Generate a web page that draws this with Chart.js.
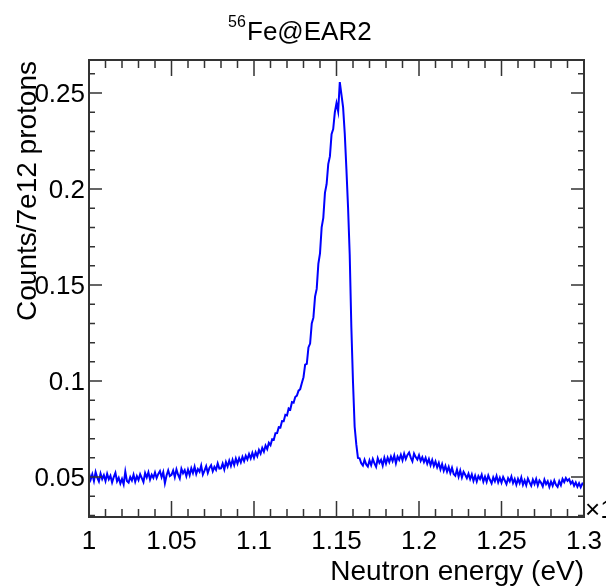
<!DOCTYPE html>
<html>
<head>
<meta charset="utf-8">
<script src="https://cdn.jsdelivr.net/npm/chart.js@4.4.1/dist/chart.umd.min.js"></script>
<style>
 html, body { margin: 0; padding: 0; background: #fff; }
 #wrap { width: 606px; height: 588px; }
</style>
</head>
<body>
<div id="wrap"><canvas id="feChart" width="606" height="588"></canvas></div>
<script>
// neutron energy (x10^3 eV), bin centres
var energy = [
 1.000, 1.001, 1.002, 1.003, 1.004, 1.005, 1.006, 1.007, 1.008, 1.009,
 1.010, 1.011, 1.012, 1.013, 1.014, 1.015, 1.016, 1.017, 1.018, 1.019,
 1.020, 1.021, 1.022, 1.023, 1.024, 1.025, 1.026, 1.027, 1.028, 1.029,
 1.030, 1.031, 1.032, 1.033, 1.034, 1.035, 1.036, 1.037, 1.038, 1.039,
 1.040, 1.041, 1.042, 1.043, 1.044, 1.045, 1.046, 1.047, 1.048, 1.049,
 1.050, 1.051, 1.052, 1.053, 1.054, 1.055, 1.056, 1.057, 1.058, 1.059,
 1.060, 1.061, 1.062, 1.063, 1.064, 1.065, 1.066, 1.067, 1.068, 1.069,
 1.070, 1.071, 1.072, 1.073, 1.074, 1.075, 1.076, 1.077, 1.078, 1.079,
 1.080, 1.081, 1.082, 1.083, 1.084, 1.085, 1.086, 1.087, 1.088, 1.089,
 1.090, 1.091, 1.092, 1.093, 1.094, 1.095, 1.096, 1.097, 1.098, 1.099,
 1.100, 1.101, 1.102, 1.103, 1.104, 1.105, 1.106, 1.107, 1.108, 1.109,
 1.110, 1.111, 1.112, 1.113, 1.114, 1.115, 1.116, 1.117, 1.118, 1.119,
 1.120, 1.121, 1.122, 1.123, 1.124, 1.125, 1.126, 1.127, 1.128, 1.129,
 1.130, 1.131, 1.132, 1.133, 1.134, 1.135, 1.136, 1.137, 1.138, 1.139,
 1.140, 1.141, 1.142, 1.143, 1.144, 1.145, 1.146, 1.147, 1.148, 1.149,
 1.150, 1.151, 1.152, 1.153, 1.154, 1.155, 1.156, 1.157, 1.158, 1.159,
 1.160, 1.161, 1.162, 1.163, 1.164, 1.165, 1.166, 1.167, 1.168, 1.169,
 1.170, 1.171, 1.172, 1.173, 1.174, 1.175, 1.176, 1.177, 1.178, 1.179,
 1.180, 1.181, 1.182, 1.183, 1.184, 1.185, 1.186, 1.187, 1.188, 1.189,
 1.190, 1.191, 1.192, 1.193, 1.194, 1.195, 1.196, 1.197, 1.198, 1.199,
 1.200, 1.201, 1.202, 1.203, 1.204, 1.205, 1.206, 1.207, 1.208, 1.209,
 1.210, 1.211, 1.212, 1.213, 1.214, 1.215, 1.216, 1.217, 1.218, 1.219,
 1.220, 1.221, 1.222, 1.223, 1.224, 1.225, 1.226, 1.227, 1.228, 1.229,
 1.230, 1.231, 1.232, 1.233, 1.234, 1.235, 1.236, 1.237, 1.238, 1.239,
 1.240, 1.241, 1.242, 1.243, 1.244, 1.245, 1.246, 1.247, 1.248, 1.249,
 1.250, 1.251, 1.252, 1.253, 1.254, 1.255, 1.256, 1.257, 1.258, 1.259,
 1.260, 1.261, 1.262, 1.263, 1.264, 1.265, 1.266, 1.267, 1.268, 1.269,
 1.270, 1.271, 1.272, 1.273, 1.274, 1.275, 1.276, 1.277, 1.278, 1.279,
 1.280, 1.281, 1.282, 1.283, 1.284, 1.285, 1.286, 1.287, 1.288, 1.289,
 1.290, 1.291, 1.292, 1.293, 1.294, 1.295, 1.296, 1.297, 1.298, 1.299,
 1.300
];

// counts per 7e12 protons
var counts = [
 0.0521, 0.0487, 0.0515, 0.0480, 0.0526, 0.0497, 0.0477, 0.0518, 0.0490, 0.0510,
 0.0480, 0.0517, 0.0489, 0.0507, 0.0472, 0.0500, 0.0522, 0.0478, 0.0496, 0.0466,
 0.0490, 0.0462, 0.0528, 0.0479, 0.0471, 0.0500, 0.0482, 0.0512, 0.0476, 0.0505,
 0.0485, 0.0515, 0.0495, 0.0474, 0.0521, 0.0498, 0.0525, 0.0487, 0.0512, 0.0496,
 0.0524, 0.0495, 0.0516, 0.0531, 0.0499, 0.0526, 0.0468, 0.0508, 0.0535, 0.0505,
 0.0511, 0.0534, 0.0500, 0.0540, 0.0512, 0.0492, 0.0543, 0.0520, 0.0536, 0.0505,
 0.0538, 0.0510, 0.0546, 0.0521, 0.0554, 0.0516, 0.0542, 0.0528, 0.0560, 0.0513,
 0.0534, 0.0557, 0.0522, 0.0548, 0.0562, 0.0530, 0.0553, 0.0538, 0.0571, 0.0544,
 0.0545, 0.0570, 0.0540, 0.0578, 0.0555, 0.0585, 0.0558, 0.0590, 0.0562, 0.0596,
 0.0570, 0.0598, 0.0576, 0.0605, 0.0583, 0.0611, 0.0592, 0.0620, 0.0597, 0.0626,
 0.0600, 0.0629, 0.0609, 0.0641, 0.0622, 0.0652, 0.0632, 0.0664, 0.0646, 0.0678,
 0.0666, 0.0697, 0.0694, 0.0728, 0.0729, 0.0760, 0.0758, 0.0792, 0.0791, 0.0824,
 0.0821, 0.0858, 0.0852, 0.0890, 0.0887, 0.0917, 0.0924, 0.0950, 0.0958, 0.0990,
 0.1020, 0.1085, 0.1090, 0.1175, 0.1195, 0.1300, 0.1330, 0.1440, 0.1480, 0.1610,
 0.1665, 0.1800, 0.1850, 0.1980, 0.2025, 0.2130, 0.2170, 0.2285, 0.2312, 0.2400,
 0.2448, 0.2405, 0.2557, 0.2492, 0.2425, 0.2290, 0.2105, 0.1905, 0.1660, 0.1280,
 0.0995, 0.0762, 0.0670, 0.0600, 0.0598, 0.0572, 0.0560, 0.0590, 0.0566, 0.0555,
 0.0587, 0.0562, 0.0594, 0.0571, 0.0553, 0.0598, 0.0574, 0.0590, 0.0560, 0.0600,
 0.0570, 0.0601, 0.0578, 0.0606, 0.0583, 0.0612, 0.0572, 0.0607, 0.0590, 0.0616,
 0.0588, 0.0622, 0.0594, 0.0615, 0.0628, 0.0601, 0.0582, 0.0622, 0.0604, 0.0591,
 0.0614, 0.0584, 0.0603, 0.0578, 0.0600, 0.0570, 0.0594, 0.0562, 0.0589, 0.0558,
 0.0581, 0.0551, 0.0574, 0.0540, 0.0567, 0.0533, 0.0558, 0.0528, 0.0553, 0.0521,
 0.0548, 0.0516, 0.0507, 0.0539, 0.0502, 0.0534, 0.0498, 0.0527, 0.0512, 0.0494,
 0.0518, 0.0490, 0.0514, 0.0480, 0.0507, 0.0477, 0.0505, 0.0489, 0.0512, 0.0476,
 0.0502, 0.0475, 0.0508, 0.0486, 0.0467, 0.0499, 0.0478, 0.0506, 0.0472, 0.0496,
 0.0471, 0.0500, 0.0482, 0.0463, 0.0494, 0.0477, 0.0503, 0.0469, 0.0490, 0.0460,
 0.0490, 0.0468, 0.0498, 0.0460, 0.0483, 0.0458, 0.0492, 0.0472, 0.0455, 0.0486,
 0.0464, 0.0490, 0.0456, 0.0482, 0.0470, 0.0451, 0.0486, 0.0463, 0.0478, 0.0449,
 0.0476, 0.0455, 0.0482, 0.0460, 0.0449, 0.0478, 0.0458, 0.0490, 0.0474, 0.0495,
 0.0480, 0.0489, 0.0466, 0.0478, 0.0455, 0.0472, 0.0450, 0.0468, 0.0447, 0.0466,
 0.0458
];

var xTicks = [1, 1.05, 1.1, 1.15, 1.2, 1.25, 1.3];
var yTicks = [0.05, 0.1, 0.15, 0.2, 0.25];
var xMin = 1, xMax = 1.3;
var yMin = 0.0292, yMax = 0.2672;

var FONT = "'Liberation Sans', Arial, Helvetica, sans-serif";

// ROOT-like frame, inward ticks, labels and titles
var rootFrame = {
 id: "rootFrame",
 afterDraw: function (chart) {
  var ctx = chart.ctx;
  var a = chart.chartArea;
  var xs = chart.scales.x;
  var ys = chart.scales.y;
  ctx.save();
  ctx.strokeStyle = "#333";
  ctx.lineWidth = 1.5;

  // x ticks, major + 4 minor per division
  ctx.beginPath();
  for (var i = 0; i < xTicks.length; i++) {
   var px = xs.getPixelForValue(xTicks[i]);
   ctx.moveTo(px, a.bottom); ctx.lineTo(px, a.bottom - 16);
   ctx.moveTo(px, a.top); ctx.lineTo(px, a.top + 16);
   if (i < xTicks.length - 1) {
    var step = (xTicks[i + 1] - xTicks[i]) / 5;
    for (var k = 1; k < 5; k++) {
     var mx = xs.getPixelForValue(xTicks[i] + k * step);
     ctx.moveTo(mx, a.bottom); ctx.lineTo(mx, a.bottom - 8);
     ctx.moveTo(mx, a.top); ctx.lineTo(mx, a.top + 8);
    }
   }
  }
  // y ticks, minor every 0.01 across the full range
  var ymin0 = Math.ceil(yMin * 100);
  var ymax0 = Math.floor(yMax * 100);
  for (var j = ymin0; j <= ymax0; j++) {
   var py = ys.getPixelForValue(j / 100);
   var len = j % 5 === 0 ? 13 : 6;
   ctx.moveTo(a.left, py); ctx.lineTo(a.left + len, py);
   ctx.moveTo(a.right, py); ctx.lineTo(a.right - len, py);
  }
  ctx.stroke();

  ctx.lineWidth = 2;
  ctx.strokeRect(a.left, a.top, a.right - a.left, a.bottom - a.top);

  ctx.fillStyle = "#000";
  ctx.font = "26px " + FONT;
  ctx.textBaseline = "alphabetic";
  ctx.textAlign = "center";
  xTicks.forEach(function (v) {
   ctx.fillText(String(v), xs.getPixelForValue(v), 549);
  });
  ctx.textAlign = "right";
  yTicks.forEach(function (v) {
   ctx.fillText(String(v), 85, ys.getPixelForValue(v) + 9);
  });

  // exponent of the x axis, cut at the edge as in the original
  ctx.textAlign = "left";
  ctx.fillText("\u00d710", 585, 518);

  // axis titles
  ctx.font = "28px " + FONT;
  ctx.textAlign = "right";
  ctx.fillText("Neutron energy (eV)", a.right, 580);
  ctx.save();
  ctx.translate(36, 61);
  ctx.rotate(-Math.PI / 2);
  ctx.fillText("Counts/7e12 protons", 0, 0);
  ctx.restore();

  // title with superscript mass number
  ctx.textAlign = "left";
  ctx.font = "16px " + FONT;
  ctx.fillText("56", 228, 27);
  ctx.font = "26px " + FONT;
  ctx.fillText("Fe@EAR2", 247, 40);
  ctx.restore();
 },
};

var points = energy.map(function (e, i) {
 return { x: e, y: counts[i] };
});

new Chart(document.getElementById("feChart"), {
 type: "line",
 data: {
  datasets: [
   {
    label: "56Fe@EAR2",
    data: points,
    borderColor: "#0000ff",
    borderWidth: 2,
    pointRadius: 0,
    tension: 0,
    fill: false,
   },
  ],
 },
 options: {
  responsive: false,
  animation: false,
  layout: { padding: { top: 60, right: 22, left: 0, bottom: 0 } },
  plugins: {
   legend: { display: false },
   title: { display: false },
   tooltip: { enabled: false },
  },
  scales: {
   x: {
    type: "linear",
    min: xMin,
    max: xMax,
    grid: { display: false },
    border: { display: false },
    ticks: { display: false },
    afterFit: function (s) { s.height = 71; },
   },
   y: {
    type: "linear",
    min: yMin,
    max: yMax,
    grid: { display: false },
    border: { display: false },
    ticks: { display: false },
    afterFit: function (s) { s.width = 89; },
   },
  },
 },
 plugins: [rootFrame],
});
</script>
</body>
</html>
